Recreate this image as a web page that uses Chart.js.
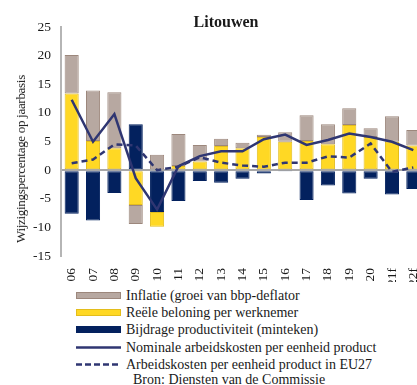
<!DOCTYPE html>
<html lang="nl">
<head>
    <meta charset="UTF-8">
    <title>Litouwen</title>
    <script src="https://cdn.jsdelivr.net/npm/chart.js"></script>
    <style>
        html, body { margin: 0; padding: 0; overflow: hidden; background: #fff; }
        body { width: 417px; height: 385px; position: relative; font-family: 'Liberation Serif', 'Times New Roman', serif; color: #1a1a1a; }
        #wrap { position: absolute; left: 0; top: 0; width: 424px; height: 282px; }
        #title { position: absolute; left: 226px; top: 22px; transform: translate(-50%, -50%); font-weight: bold; font-size: 16px; white-space: nowrap; }
        #ytitle { position: absolute; left: 21px; top: 159px; transform: translate(-50%, -50%) rotate(-90deg); font-size: 13px; letter-spacing: -0.3px; white-space: nowrap; }
        #legend { position: absolute; left: 76px; top: 287px; font-size: 14px; line-height: 17.2px; }
        .row { display: flex; align-items: center; height: 17.2px; white-space: nowrap; }
        .sym { width: 45px; height: 17px; margin-right: 5px; flex: none; }
        .src { padding-left: 57px; margin-top: -2px; }
    </style>
</head>
<body>
    <div id="wrap"><canvas id="chart" width="424" height="282"></canvas></div>
    <div id="title">Litouwen</div>
    <div id="ytitle">Wijzigingspercentage op jaarbasis</div>
    <div id="legend"></div>

    <script>
        // jaren (f = raming)
        const years = ['06', '07', '08', '09', '10', '11', '12', '13', '14', '15', '16', '17', '18', '19', '20', '21f', '22f'];

        // bijdragen aan de groei van de nominale ULC (procentpunten)
        const inflatie = [6.7, 8.8, 9.8, -3.3, 2.7, 5.6, 2.9, 1.3, 1.0, 0.4, 1.65, 4.5, 3.5, 2.9, 1.5, 4.45, 2.7];
        const reeleBeloning = [13.4, 5.1, 3.8, -6.1, -2.6, 0.7, 1.5, 4.2, 3.8, 5.8, 4.95, 5.1, 4.5, 7.9, 5.8, 4.95, 4.3];
        const productiviteit = [-7.6, -8.8, -4.0, 8.0, -7.3, -5.4, -1.9, -2.2, -1.5, -0.6, -0.1, -5.2, -2.7, -4.1, -1.5, -4.25, -3.3];

        // groei arbeidskosten per eenheid product (%)
        const nominaleULC = [12.3, 4.95, 9.8, -1.4, -6.9, 0.7, 2.45, 3.3, 3.3, 5.4, 6.2, 4.4, 5.25, 6.4, 5.8, 4.95, 3.5];
        const ulcEU27 = [1.2, 1.85, 4.5, 4.3, 0.0, 0.6, 2.25, 1.3, 0.8, 0.6, 1.3, 1.3, 2.4, 2.2, 4.65, -0.3, 0.45];

        const yTicks = { min: -15, max: 25, step: 5 };

        const colGrey = '#b7a8a1', colGreyLine = '#9c877c';
        const colYellow = '#ffd824', colYellowLine = '#e3bd1c';
        const colNavy = '#03215e';
        const colLine = '#2f3672';

        const serif = { family: "'Liberation Serif', 'Times New Roman', serif", size: 13.5 };

        const bar = (label, data, fill, edge) => ({
            type: 'bar', label, data, stack: 'bars',
            backgroundColor: fill, borderColor: edge, borderWidth: 1, borderSkipped: false,
            barPercentage: 0.66, categoryPercentage: 1
        });

        // lijnen eerst, zodat ze boven de staven getekend worden
        const datasets = [
            { type: 'line', label: 'Nominale arbeidskosten per eenheid product', data: nominaleULC, stack: 'l1',
              borderColor: colLine, borderWidth: 2.5, pointRadius: 0, tension: 0 },
            { type: 'line', label: 'Arbeidskosten per eenheid product in EU27', data: ulcEU27, stack: 'l2',
              borderColor: colLine, borderWidth: 2.5, borderDash: [6, 4], pointRadius: 0, tension: 0 },
            bar('Bijdrage productiviteit (minteken)', productiviteit, colNavy, colNavy),
            bar('Reële beloning per werknemer', reeleBeloning, colYellow, colYellowLine),
            bar('Inflatie (groei van bbp-deflator', inflatie, colGrey, colGreyLine)
        ];

        new Chart(document.getElementById('chart'), {
            data: { labels: years, datasets },
            options: {
                responsive: false,
                animation: false,
                devicePixelRatio: 1,
                layout: { padding: { top: 27, left: 0, right: 0, bottom: 0 } },
                plugins: { legend: { display: false }, tooltip: { enabled: false } },
                scales: {
                    x: {
                        stacked: true,
                        grid: { display: false },
                        border: { display: false },
                        ticks: { font: serif, color: '#1a1a1a', minRotation: 90, maxRotation: 90, autoSkip: false, padding: 4 },
                        afterFit: s => { s.height = 26; s.paddingLeft = 0; s.paddingRight = 0; }
                    },
                    y: {
                        stacked: true,
                        min: yTicks.min, max: yTicks.max,
                        ticks: { stepSize: yTicks.step, font: serif, color: '#1a1a1a', padding: 10 },
                        grid: {
                            drawTicks: false,
                            color: c => c.tick && c.tick.value === 0 ? '#a8a8a8' : 'rgba(0,0,0,0)',
                            lineWidth: 2
                        },
                        border: { display: true, color: '#b5b5b5', width: 2 },
                        afterFit: s => { s.width = 61; }
                    }
                }
            }
        });

        // legenda: staven, dan lijnen, dan bronvermelding
        const svgBox = (fill, edge) =>
            `<svg class="sym" viewBox="0 0 45 17"><rect x="0.5" y="5.5" width="44" height="6" fill="${fill}" stroke="${edge}"/></svg>`;
        const svgLine = dash =>
            `<svg class="sym" viewBox="0 0 45 17"><line x1="0" y1="8.5" x2="45" y2="8.5" stroke="${colLine}" stroke-width="2.5" ${dash ? 'stroke-dasharray="6 3"' : ''}/></svg>`;

        const legendRows = [
            [svgBox(colGrey, colGreyLine), datasets[4].label],
            [svgBox(colYellow, colYellowLine), datasets[3].label],
            [svgBox(colNavy, colNavy), datasets[2].label],
            [svgLine(false), datasets[0].label],
            [svgLine(true), datasets[1].label]
        ];
        const legend = document.getElementById('legend');
        legend.innerHTML = legendRows.map(r => `<div class="row">${r[0]}<span>${r[1]}</span></div>`).join('')
            + '<div class="row src">Bron: Diensten van de Commissie</div>';
    </script>
</body>
</html>
